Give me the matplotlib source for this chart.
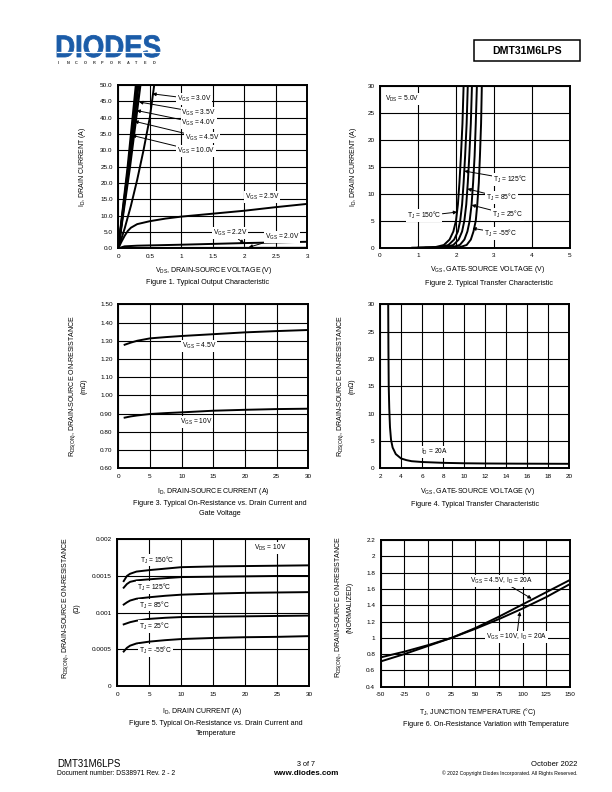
import numpy as np
import matplotlib
matplotlib.use("Agg")
import matplotlib.pyplot as plt
from matplotlib.patches import Rectangle, PathPatch
from matplotlib.textpath import TextPath
from matplotlib.font_manager import FontProperties
from matplotlib.transforms import Affine2D

plt.rcParams['font.family'] = ['Liberation Sans', 'DejaVu Sans']
plt.rcParams['mathtext.fontset'] = 'custom'
plt.rcParams['mathtext.rm'] = 'Liberation Sans'
plt.rcParams['mathtext.it'] = 'Liberation Sans:italic'
plt.rcParams['mathtext.bf'] = 'Liberation Sans:bold'

# ---------------- DATA ----------------
# Fig 1: output characteristic (VDS in V, ID in A)
v_bundle = [0, 25, 50]          # ID points for the steep curves
vds_10 = [0, 0.15, 0.28]
vds_45 = [0, 0.16, 0.30]
vds_40 = [0, 0.17, 0.32]
vds_35 = [0, 0.185, 0.35]
vds_30 = [0, 0.1, 0.2, 0.3, 0.4, 0.5, 0.57]
id_30 = [0, 6, 13, 21, 30, 40, 50]
vds_25 = [0, 0.05, 0.1, 0.15, 0.2, 0.3, 0.5, 0.75, 1.0, 1.5, 2.0, 2.5, 3.0]
id_25 = [0, 2.0, 3.8, 5.3, 6.3, 7.4, 8.3, 9.1, 9.7, 10.6, 11.5, 12.6, 13.6]
vds_22 = [0, 0.1, 0.3, 1.0, 2.0, 3.0]
id_22 = [0, 0.6, 0.8, 1.1, 1.6, 2.0]
vds_20 = [0, 0.2, 3.0]
id_20 = [0, 0.15, 0.25]

# Fig 2: transfer characteristic (VGS in V, ID in A)
id_tr = [0, 0.1, 0.5, 1.5, 3, 5, 8, 12, 17, 23, 30]
vgs_150 = [0.85, 1.45, 1.68, 1.83, 1.93, 2.00, 2.05, 2.09, 2.13, 2.17, 2.20]
vgs_125 = [1.00, 1.58, 1.80, 1.95, 2.05, 2.11, 2.16, 2.20, 2.24, 2.28, 2.31]
vgs_85 = [1.20, 1.72, 1.93, 2.07, 2.16, 2.22, 2.27, 2.31, 2.35, 2.39, 2.42]
vgs_25 = [1.40, 1.90, 2.10, 2.22, 2.30, 2.36, 2.41, 2.45, 2.49, 2.52, 2.55]
vgs_m55 = [1.60, 2.10, 2.28, 2.39, 2.46, 2.52, 2.56, 2.60, 2.63, 2.66, 2.68]

# Fig 3: RDS(ON) vs ID (mOhm)
id3 = [1, 2, 3, 5, 7.5, 10, 15, 20, 25, 30]
r3_45 = [1.278, 1.290, 1.300, 1.313, 1.320, 1.326, 1.336, 1.346, 1.353, 1.359]
r3_10 = [0.878, 0.885, 0.890, 0.898, 0.903, 0.907, 0.916, 0.921, 0.925, 0.927]

# Fig 4: RDS(ON) vs VGS (mOhm)
vgs4 = [2.78, 2.80, 2.83, 2.88, 2.95, 3.05, 3.2, 3.5, 4.0, 4.5, 5, 6, 8, 10, 12, 15, 20]
r4 = [30, 22, 15, 11, 7.5, 5.2, 3.8, 2.6, 1.8, 1.5, 1.3, 1.15, 1.0, 0.92, 0.88, 0.85, 0.82]

# Fig 5: RDS(ON) vs ID and temperature (Ohm)
id5 = [1, 1.5, 2, 3, 5, 7.5, 10, 15, 20, 25, 30]
r5_150 = [1.43e-3, 1.50e-3, 1.53e-3, 1.56e-3, 1.58e-3, 1.60e-3, 1.62e-3, 1.63e-3, 1.635e-3, 1.64e-3, 1.645e-3]
r5_125 = [1.34e-3, 1.39e-3, 1.42e-3, 1.44e-3, 1.455e-3, 1.47e-3, 1.485e-3, 1.49e-3, 1.495e-3, 1.50e-3, 1.50e-3]
r5_85 = [1.11e-3, 1.14e-3, 1.165e-3, 1.19e-3, 1.21e-3, 1.23e-3, 1.245e-3, 1.26e-3, 1.27e-3, 1.275e-3, 1.28e-3]
r5_25 = [0.84e-3, 0.855e-3, 0.87e-3, 0.89e-3, 0.915e-3, 0.93e-3, 0.94e-3, 0.945e-3, 0.95e-3, 0.955e-3, 0.96e-3]
r5_m55 = [0.47e-3, 0.52e-3, 0.55e-3, 0.58e-3, 0.605e-3, 0.625e-3, 0.64e-3, 0.655e-3, 0.665e-3, 0.67e-3, 0.68e-3]

# Fig 6: normalized RDS(ON) vs TJ
tj6 = [-50, -25, 0, 25, 50, 75, 100, 125, 150]
r6_45 = [0.76, 0.83, 0.91, 1.0, 1.12, 1.26, 1.41, 1.56, 1.71]
r6_10 = [0.71, 0.80, 0.90, 1.0, 1.11, 1.23, 1.36, 1.50, 1.66]

# ---------------- FIGURE ----------------
W, H = 612, 792
fig = plt.figure(figsize=(6.12, 7.92), dpi=100)


def ax_at(l, t, r, b):
    return fig.add_axes([l / W, 1 - b / H, (r - l) / W, (b - t) / H])


def ftext(x, y, s, **kw):
    fig.text(x / W, 1 - y / H, s, **kw)


def sub(a, b):
    return a + r'$_{\mathrm{' + b + '}}$'


def style(ax, xt, xl, yt, yl):
    ax.set_xlim(xt[0], xt[-1])
    ax.set_ylim(yt[0], yt[-1])
    ax.set_xticks(xt)
    ax.set_xticklabels(xl)
    ax.set_yticks(yt)
    ax.set_yticklabels(yl)
    ax.grid(True, color='black', lw=0.8)
    ax.set_axisbelow(True)
    ax.tick_params(length=0, labelsize=4.6, pad=4)
    for s in ax.spines.values():
        s.set_linewidth(1.4)


def ylab(ax, s, x, y=0.5):
    ax.text(x, y, s, transform=ax.transAxes, rotation=90, ha='center',
            va='center', fontsize=5, multialignment='center', linespacing=1.5)


BOX = dict(facecolor='white', edgecolor='none', pad=0.6)
ARR = dict(arrowstyle='-|>', color='black', lw=0.7, mutation_scale=5,
           shrinkA=0, shrinkB=0)


def label(ax, s, xy, tip=None, ha='left'):
    if tip is None:
        ax.text(xy[0], xy[1], s, fontsize=4.8, ha=ha, va='center', bbox=BOX)
    else:
        ax.annotate(s, xy=tip, xytext=xy, fontsize=4.8, ha=ha, va='center',
                    bbox=BOX, arrowprops=ARR)


# ---- Figure 1 ----
ax1 = ax_at(118.3, 85, 307.3, 248.3)
for v in (vds_10, vds_45, vds_40, vds_35):
    ax1.plot(v, v_bundle, color='black', lw=1.6)
ax1.plot(vds_30, id_30, color='black', lw=1.4)
ax1.plot(vds_25, id_25, color='black', lw=1.4)
ax1.plot(vds_22, id_22, color='black', lw=1.4)
ax1.plot(vds_20, id_20, color='#777777', lw=1.2)
style(ax1, [0, 0.5, 1, 1.5, 2, 2.5, 3], ['0', '0.5', '1', '1.5', '2', '2.5', '3'],
      list(range(0, 55, 5)), [f'{v:.1f}' for v in range(0, 55, 5)])
label(ax1, sub('V', 'GS') + ' = 3.0V', (0.93, 45.7), (0.54, 47.3))
label(ax1, sub('V', 'GS') + ' = 3.5V', (1.0, 41.6), (0.33, 44.8))
label(ax1, sub('V', 'GS') + ' = 4.0V', (1.0, 38.3), (0.29, 42.2))
label(ax1, sub('V', 'GS') + ' = 4.5V', (1.06, 33.9), (0.255, 38.9))
label(ax1, sub('V', 'GS') + ' = 10.0V', (0.93, 29.8), (0.215, 34.6))
label(ax1, sub('V', 'GS') + ' = 2.5V', (2.01, 15.6))
label(ax1, sub('V', 'GS') + ' = 2.2V', (1.5, 4.6), (2.0, 1.5))
label(ax1, sub('V', 'GS') + ' = 2.0V', (2.33, 3.4), (2.07, 0.3))
ylab(ax1, sub('I', 'D') + ', DRAIN CURRENT (A)', -0.187)
ftext(214, 271, sub('V', 'DS') + ', DRAIN-SOURCE VOLTAGE (V)', fontsize=5, ha='center', va='center')
ftext(208, 283, 'Figure 1. Typical Output Characteristic', fontsize=5.2, ha='center', va='center')

# ---- Figure 2 ----
ax2 = ax_at(380, 85.7, 570, 247.7)
for v in (vgs_150, vgs_125, vgs_85, vgs_25, vgs_m55):
    ax2.plot(v, id_tr, color='black', lw=1.4)
style(ax2, list(range(0, 6)), [str(v) for v in range(0, 6)],
      list(range(0, 35, 5)), [str(v) for v in range(0, 35, 5)])
label(ax2, sub('V', 'DS') + ' = 5.0V', (0.13, 27.5))
label(ax2, sub('T', 'J') + ' = 125°C', (2.98, 12.7), (2.22, 14.2))
label(ax2, sub('T', 'J') + ' = 85°C', (2.79, 9.3), (2.30, 10.9))
label(ax2, sub('T', 'J') + ' = 25°C', (2.95, 6.2), (2.41, 7.9))
label(ax2, sub('T', 'J') + ' = -55°C', (2.74, 2.7), (2.43, 3.6))
label(ax2, sub('T', 'J') + ' = 150°C', (1.62, 5.9), (2.03, 6.6), ha='right')
ylab(ax2, sub('I', 'D') + ', DRAIN CURRENT (A)', -0.142)
ftext(487.5, 270, sub('V', 'GS') + ', GATE-SOURCE VOLTAGE (V)', fontsize=5, ha='center', va='center')
ftext(489, 283.5, 'Figure 2. Typical Transfer Characteristic', fontsize=5.2, ha='center', va='center')

# ---- Figure 3 ----
ax3 = ax_at(118.3, 304.3, 308.3, 468.3)
ax3.plot(id3, r3_45, color='black', lw=1.4)
ax3.plot(id3, r3_10, color='black', lw=1.4)
yt3 = [0.6, 0.7, 0.8, 0.9, 1.0, 1.1, 1.2, 1.3, 1.4, 1.5]
style(ax3, list(range(0, 35, 5)), [str(v) for v in range(0, 35, 5)],
      yt3, [f'{v:.2f}' for v in yt3])
label(ax3, sub('V', 'GS') + ' = 4.5V', (10.0, 1.273))
label(ax3, sub('V', 'GS') + ' = 10V', (9.7, 0.856))
ylab(ax3, sub('R', 'DS(ON)') + ', DRAIN-SOURCE ON-RESISTANCE\n(mΩ)', -0.215)
ftext(213, 491.7, sub('I', 'D') + ', DRAIN-SOURCE CURRENT (A)', fontsize=5, ha='center', va='center')
ftext(220, 508.5, 'Figure 3. Typical On-Resistance vs. Drain Current and\nGate Voltage',
      fontsize=5.2, ha='center', va='center', linespacing=1.5)

# ---- Figure 4 ----
ax4 = ax_at(380, 304.3, 569.3, 468.3)
ax4.plot(vgs4, r4, color='black', lw=1.4)
style(ax4, list(range(2, 22, 2)), [str(v) for v in range(2, 22, 2)],
      list(range(0, 35, 5)), [str(v) for v in range(0, 35, 5)])
label(ax4, sub('I', 'D') + ' = 20A', (5.87, 2.93))
ylab(ax4, sub('R', 'DS(ON)') + ', DRAIN-SOURCE ON-RESISTANCE\n(mΩ)', -0.183)
ftext(478, 491.7, sub('V', 'GS') + ', GATE-SOURCE VOLTAGE (V)', fontsize=5, ha='center', va='center')
ftext(475, 504, 'Figure 4. Typical Transfer Characteristic', fontsize=5.2, ha='center', va='center')

# ---- Figure 5 ----
ax5 = ax_at(117.3, 539.3, 309.3, 686)
for r in (r5_150, r5_125, r5_85, r5_25, r5_m55):
    ax5.plot(id5, r, color='black', lw=1.4)
style(ax5, list(range(0, 35, 5)), [str(v) for v in range(0, 35, 5)],
      [0, 0.0005, 0.001, 0.0015, 0.002], ['0', '0.0005', '0.001', '0.0015', '0.002'])
label(ax5, sub('V', 'DS') + ' = 10V', (21.4, 0.001877))
label(ax5, sub('T', 'J') + ' = 150°C', (3.55, 0.001718))
label(ax5, sub('T', 'J') + ' = 125°C', (3.1, 0.001346))
label(ax5, sub('T', 'J') + ' = 85°C', (3.4, 0.001104))
label(ax5, sub('T', 'J') + ' = 25°C', (3.4, 0.000809))
label(ax5, sub('T', 'J') + ' = -55°C', (3.4, 0.000481))
ylab(ax5, sub('R', 'DS(ON)') + ', DRAIN-SOURCE ON-RESISTANCE\n(Ω)', -0.242, 0.53)
ftext(202, 711.7, sub('I', 'D') + ', DRAIN CURRENT (A)', fontsize=5, ha='center', va='center')
ftext(216, 728.7, 'Figure 5. Typical On-Resistance vs. Drain Current and\nTemperature',
      fontsize=5.2, ha='center', va='center', linespacing=1.5)

# ---- Figure 6 ----
ax6 = ax_at(380.7, 540, 570, 686.7)
ax6.plot(tj6, r6_45, color='black', lw=1.4)
ax6.plot(tj6, r6_10, color='black', lw=1.4)
yt6 = [0.4, 0.6, 0.8, 1.0, 1.2, 1.4, 1.6, 1.8, 2.0, 2.2]
style(ax6, list(range(-50, 175, 25)), [str(v) for v in range(-50, 175, 25)],
      yt6, [f'{v:g}' for v in yt6])
label(ax6, sub('V', 'GS') + ' = 4.5V, ' + sub('I', 'D') + ' = 20A', (44.3, 1.70), (109.5, 1.48))
label(ax6, sub('V', 'GS') + ' = 10V, ' + sub('I', 'D') + ' = 20A', (61.3, 1.006), (97, 1.32))
ylab(ax6, sub('R', 'DS(ON)') + ', DRAIN-SOURCE ON-RESISTANCE\n(NORMALIZED)', -0.195, 0.54)
ftext(478, 711.7, sub('T', 'J') + ', JUNCTION TEMPERATURE (°C)', fontsize=5, ha='center', va='center')
ftext(486, 724, 'Figure 6. On-Resistance Variation with Temperature', fontsize=5.2, ha='center', va='center')

# ---------------- HEADER ----------------
blue = '#1b5ca8'
tp = TextPath((0, 0), 'DIODES', size=1, prop=FontProperties(family='Liberation Sans', weight='bold'))
ext = tp.get_extents()
sx = 103 / ext.width
sy = 22 / ext.height
tr = Affine2D().translate(-ext.x0, 0).scale(sx / W, sy / H).translate(57 / W, 1 - 57 / H) + fig.transFigure
fig.add_artist(PathPatch(tp, transform=tr, facecolor=blue, edgecolor=blue, lw=0.6))
fig.add_artist(plt.Line2D([57 / W, 161 / W], [1 - 52 / H, 1 - 52 / H], color='white', lw=0.9))
letters = list('INCORPORATED')
for i, ch in enumerate(letters):
    ftext(58 + i * 8.6, 62.5, ch, fontsize=2.8, color='#333333', ha='left', va='center', fontweight='bold')

fig.add_artist(Rectangle((474 / W, 1 - 61 / H), 106 / W, 21 / H, transform=fig.transFigure,
                         facecolor='none', edgecolor='black', lw=1.1))
ftext(527, 50.5, 'DMT31M6LPS', fontsize=7.6, fontweight='bold', ha='center', va='center')

# ---------------- FOOTER ----------------
ftext(57, 764, 'DMT31M6LPS', fontsize=7, ha='left', va='center')
ftext(57, 773.5, 'Document number: DS38971 Rev. 2 - 2', fontsize=4.9, ha='left', va='center')
ftext(306, 764, '3 of 7', fontsize=5.2, ha='center', va='center')
ftext(306, 773.5, 'www.diodes.com', fontsize=5.8, fontweight='bold', ha='center', va='center')
ftext(577, 764, 'October 2022', fontsize=5.5, ha='right', va='center')
ftext(577, 773, '© 2022 Copyright Diodes Incorporated. All Rights Reserved.', fontsize=3.6, ha='right', va='center')

fig.savefig('out.png', dpi=100)
